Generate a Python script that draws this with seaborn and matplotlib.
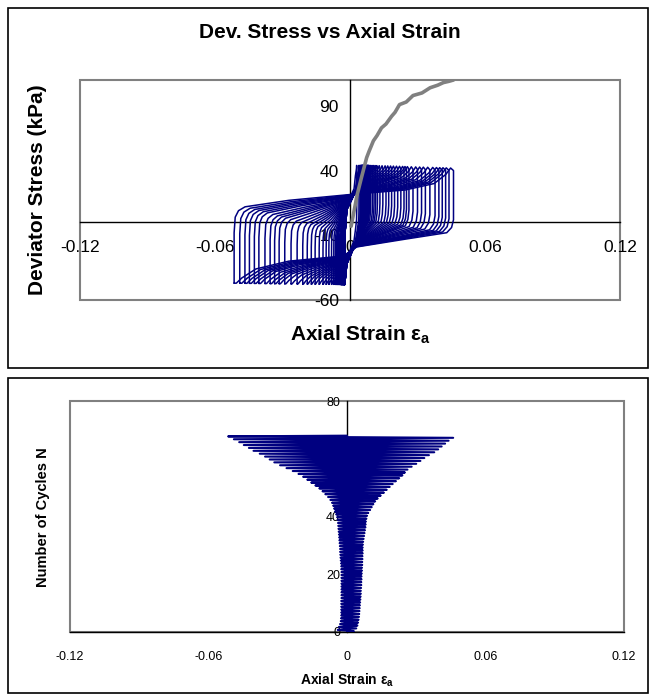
import numpy as np
import pandas as pd
import matplotlib
matplotlib.use("Agg")
import matplotlib.pyplot as plt
import seaborn as sns
from matplotlib.patches import Rectangle

sns.set_style("white")
plt.rcParams['font.family'] = ['Liberation Sans', 'DejaVu Sans']
plt.rcParams['mathtext.default'] = 'regular'
for k in ['text.color', 'axes.labelcolor', 'xtick.color', 'ytick.color']:
    plt.rcParams[k] = 'black'

# strain envelope of every load cycle
eps_max = [0.0030, 0.0040, 0.0045, 0.0048, 0.0050, 0.0052, 0.0053, 0.0054, 0.0055, 0.0056,
           0.0057, 0.0058, 0.0059, 0.0060, 0.0060, 0.0061, 0.0062, 0.0062, 0.0063, 0.0063,
           0.0064, 0.0065, 0.0065, 0.0066, 0.0066, 0.0067, 0.0067, 0.0068, 0.0068, 0.0068,
           0.0069, 0.0070, 0.0072, 0.0074, 0.0076, 0.0078, 0.0080, 0.0081, 0.0082, 0.0084,
           0.0087, 0.0092, 0.0100, 0.0107, 0.0114, 0.0122, 0.0133, 0.0146, 0.0160, 0.0172,
           0.0185, 0.0198, 0.0212, 0.0226, 0.0240, 0.0251, 0.0262, 0.0280, 0.0300, 0.0318,
           0.0335, 0.0355, 0.0378, 0.0395, 0.0410, 0.0425, 0.0440, 0.0460]
eps_min = [-0.0040, -0.0035, -0.0030, -0.0027, -0.0026, -0.0025, -0.0025, -0.0025, -0.0025, -0.0025,
           -0.0025, -0.0024, -0.0024, -0.0024, -0.0024, -0.0024, -0.0024, -0.0024, -0.0024, -0.0024,
           -0.0024, -0.0025, -0.0025, -0.0026, -0.0027, -0.0028, -0.0029, -0.0030, -0.0030, -0.0031,
           -0.0032, -0.0033, -0.0034, -0.0035, -0.0036, -0.0037, -0.0038, -0.0039, -0.0040, -0.0043,
           -0.0047, -0.0052, -0.0056, -0.0060, -0.0065, -0.0072, -0.0082, -0.0094, -0.0106, -0.0120,
           -0.0137, -0.0155, -0.0172, -0.0190, -0.0210, -0.0235, -0.0262, -0.0290, -0.0315, -0.0335,
           -0.0355, -0.0378, -0.0405, -0.0425, -0.0447, -0.0467, -0.0490, -0.0515]

# loop outline: side, fraction of the way out to the peak strain,
# stress for the early (small) loops and for the last (large) loops
loop_side = ['L', 'L', 'L', 'L', 'L', 'L', 'L', 'L',
             'R', 'R', 'R', 'R', 'R', 'R', 'R', 'R', 'R', 'R', 'R', 'R',
             'L', 'L', 'L', 'L', 'L']
loop_frac = [1.00, 1.00, 1.00, 0.99, 0.96, 0.90, 0.50, 0.00,
             0.00, 0.50, 0.80, 0.92, 0.97, 1.00, 1.00, 1.00, 0.98, 0.93, 0.50, 0.00,
             0.00, 0.50, 0.80, 0.93, 0.98]
loop_q_small = [-48, -36, -24, -16, -12, -9, -2, 10,
                26, 36, 40, 42, 44, 42, 30, 16, 8, 2, -6, -14,
                -32, -41, -45, -47, -48]
loop_q_large = [-47, -30, -8, 4, 9, 12, 17, 21,
                22, 25, 30, 37, 42, 40, 20, 2, -4, -8, -13, -19,
                -26, -30, -36, -43, -47]

# monotonic loading after the cyclic stage (grey curve)
mono_strain = [0.0005, 0.0015, 0.0025, 0.0030, 0.0040, 0.0050, 0.0059, 0.0068, 0.0074, 0.0085,
               0.0104, 0.0120, 0.0140, 0.0160, 0.0185, 0.0200, 0.0220, 0.0250, 0.0280, 0.0320,
               0.0356, 0.0390, 0.0415, 0.0440, 0.0460]
mono_stress = [-3, 6, 15, 20, 27, 34, 40, 46, 50, 55, 63, 67, 73, 76, 82, 85, 91, 93, 98, 100,
               104, 106, 108, 109, 110]

navy = '#000080'

rows = []
for c, (lo, hi) in enumerate(zip(eps_min, eps_max)):
    w = float(np.clip(((hi - lo) - 0.012) / (0.0975 - 0.012), 0, 1))
    pts = []
    for side, f, qs, ql in zip(loop_side, loop_frac, loop_q_small, loop_q_large):
        E = hi if side == 'R' else -lo
        d = min(0.003, 0.6 * E)
        x = d + f * (E - d)
        if side == 'L':
            x = -x
        pts.append((c, x, qs + w * (ql - qs)))
    pts.append(pts[0])
    rows += pts
loops = pd.DataFrame(rows, columns=['cycle', 'strain', 'stress'])

# strain history against cycle count
hist_x, hist_n = [], []
for c, (lo, hi) in enumerate(zip(eps_min, eps_max)):
    hist_x += [0, hi, 0, lo]
    hist_n += [c, c + 0.25, c + 0.5, c + 0.75]
hist_x.append(0)
hist_n.append(len(eps_max))
hist = pd.DataFrame({'strain': hist_x, 'N': hist_n})

fig = plt.figure(figsize=(6.49, 6.98), dpi=100)
W, H = 649, 698
for (x0, y0, x1, y1) in [(8, 8, 648, 368), (8, 378, 648, 693)]:
    fig.patches.append(Rectangle((x0 / W, 1 - y1 / H), (x1 - x0) / W, (y1 - y0) / H,
                                 transform=fig.transFigure, fill=False, ec='black', lw=1.2))

ax1 = fig.add_axes([80 / W, 1 - 300 / H, 540 / W, 220 / H])
ax2 = fig.add_axes([70 / W, 1 - 632 / H, 554 / W, 231 / H])


def style_axes(ax, ylim, yticks, size, xpad, ypad):
    ax.set_xlim(-0.12, 0.12)
    ax.set_ylim(*ylim)
    for s in ['top', 'right']:
        ax.spines[s].set_visible(False)
    for s in ['left', 'bottom']:
        ax.spines[s].set_position(('data', 0))
        ax.spines[s].set_color('black')
        ax.spines[s].set_linewidth(1.0)
        ax.spines[s].set_zorder(1)
    ax.add_patch(Rectangle((0, 0), 1, 1, transform=ax.transAxes, fill=False,
                           ec='#808080', lw=1.5, zorder=0.5, clip_on=False))
    ax.set_xticks([-0.12, -0.06, 0, 0.06, 0.12])
    ax.set_xticklabels(['-0.12', '-0.06', '0', '0.06', '0.12'])
    ax.set_yticks(yticks)
    ax.set_yticklabels([str(t) for t in yticks])
    ax.tick_params(axis='x', direction='out', length=4, width=1, pad=xpad, labelsize=size)
    ax.tick_params(axis='y', direction='out', length=4, width=1, pad=ypad, labelsize=size)
    ax.set_xlabel('')
    ax.set_ylabel('')
    ax.patch.set_alpha(0)


sns.lineplot(data=loops, x='strain', y='stress', units='cycle', estimator=None, sort=False,
             color=navy, lw=1.1, ax=ax1)
sns.lineplot(x=mono_strain, y=mono_stress, sort=False, estimator=None, color='#808080',
             lw=2.6, ax=ax1)
style_axes(ax1, (-60, 110), [-60, -10, 40, 90], 12.5, 9, 4)

sns.lineplot(data=hist, x='strain', y='N', sort=False, estimator=None, color=navy,
             lw=1.5, ax=ax2)
style_axes(ax2, (0, 80), [0, 20, 40, 60, 80], 9, 10, 1)

fig.text(330 / W, 1 - 33 / H, 'Dev. Stress vs Axial Strain', ha='center', va='center',
         fontsize=15, fontweight='bold')
fig.text(38 / W, 1 - 190 / H, 'Deviator Stress (kPa)', ha='center', va='center',
         rotation=90, fontsize=15, fontweight='bold')
fig.text(360 / W, 1 - 335 / H, r'Axial Strain ε$_{a}$', ha='center', va='center',
         fontsize=15, fontweight='bold')
fig.text(43 / W, 1 - 517 / H, 'Number of Cycles N', ha='center', va='center',
         rotation=90, fontsize=10.5, fontweight='bold')
fig.text(347 / W, 1 - 680 / H, r'Axial Strain ε$_{a}$', ha='center', va='center',
         fontsize=10, fontweight='bold')

fig.savefig('out.png', dpi=100)
